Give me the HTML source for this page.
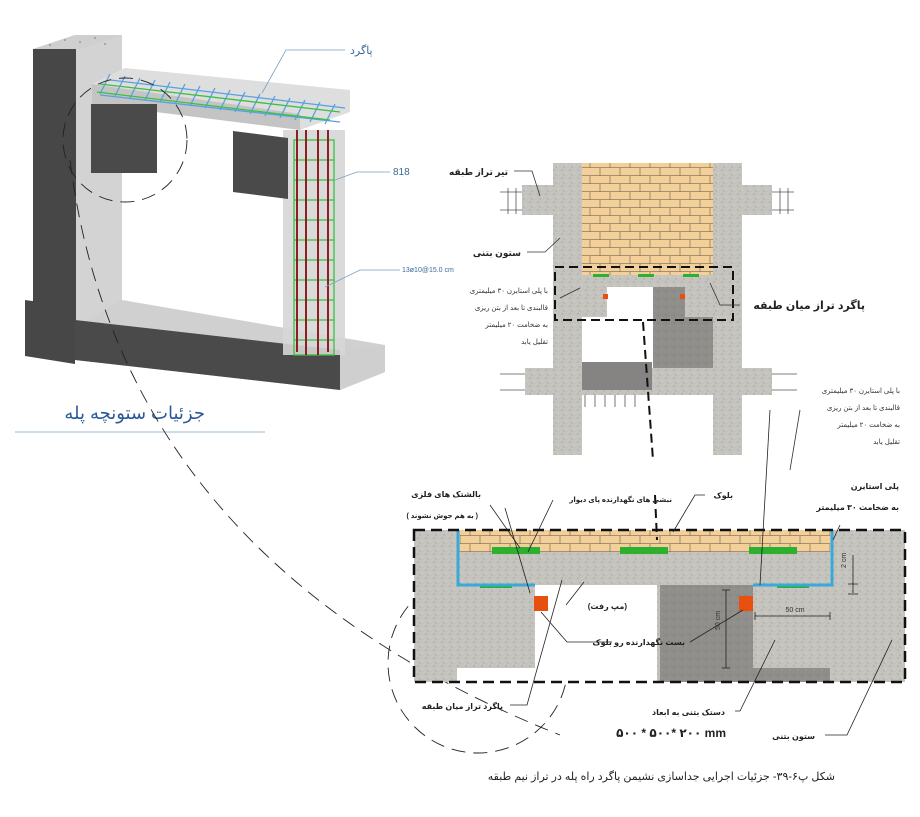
<!DOCTYPE html>
<html><head><meta charset="utf-8"><style>
body{margin:0;background:#fff}
svg{display:block;font-family:"Liberation Sans","DejaVu Sans",sans-serif}
</style></head><body>
<svg width="920" height="817" viewBox="0 0 920 817" xmlns="http://www.w3.org/2000/svg">
<defs>
<pattern id="conc" width="8" height="8" patternUnits="userSpaceOnUse">
<rect width="8" height="8" fill="#c4c3bd"/><circle cx="2" cy="2" r="0.8" fill="#a8a7a0"/><circle cx="6" cy="5" r="0.7" fill="#d8d7d1"/><circle cx="4" cy="7" r="0.6" fill="#9d9c96"/>
</pattern>
<pattern id="dconc" width="8" height="8" patternUnits="userSpaceOnUse">
<rect width="8" height="8" fill="#8f8e8a"/><circle cx="2" cy="3" r="0.8" fill="#7d7c78"/><circle cx="6" cy="6" r="0.7" fill="#a09f9a"/>
</pattern>
<pattern id="brick" width="20" height="16" patternUnits="userSpaceOnUse">
<rect width="20" height="16" fill="#f3d09a"/><path d="M0 7.5H20M0 15.5H20M10 0V8M0 8V16M20 8V16" stroke="#8a7a60" stroke-width="0.8" fill="none"/>
</pattern>
</defs>

<!-- LEFT 3D -->
<polygon points="33,49 75,35 122,35 122,327 75,327 75,49" fill="#d3d3d3"/>
<polygon points="33,49 75,35 122,35 80,49" fill="#cfcfcf"/>
<rect x="33" y="49" width="43" height="276" fill="#474747"/>
<polygon points="75,327 122,300 385,345 385,372 340,390 75,360" fill="#d0d0d0"/>
<polygon points="75,320 340,350 340,390 75,360" fill="#4a4a4a"/>
<polygon points="340,350 385,345 385,372 340,390" fill="#cfcfcf"/>
<polygon points="25,300 75,307 75,364 25,356" fill="#474747"/>
<rect x="283" y="130" width="62" height="225" fill="#d6d6d6" opacity="0.9"/>
<polygon points="92,84 125,68 350,90 350,112 300,130 92,104" fill="#dedede"/>
<polygon points="92,84 300,114 300,130 92,104" fill="#c4c4c4"/>
<rect x="91" y="104" width="66" height="69" fill="#4a4a4a"/>
<polygon points="233,131 288,138 288,199 233,192" fill="#4a4a4a"/>
<g fill="#999"><circle cx="50" cy="45" r="1"/><circle cx="65" cy="40" r="1"/><circle cx="80" cy="42" r="1"/><circle cx="95" cy="38" r="1"/><circle cx="105" cy="44" r="1"/></g>
<g stroke="#5aa0e0" stroke-width="1.3">
<path d="M100 95 L340 122 M110 80 L345 108"/>
<path d="M110 74l-10 20M125 76l-10 20M140 78l-10 20M155 80l-10 20M170 82l-10 20M185 84l-10 20M200 86l-10 20M215 88l-10 20M230 90l-10 20M245 92l-10 20M260 94l-10 20M275 96l-10 20M290 98l-10 20M305 100l-10 20M320 102l-10 20M335 104l-10 20"/>
</g>
<g stroke="#3cc040" stroke-width="1.3" fill="none">
<path d="M97 92 L330 120 M100 84 L340 112"/>
<rect x="294" y="140" width="40" height="215"/>
<path d="M294 160h40M294 180h40M294 200h40M294 220h40M294 240h40M294 260h40M294 280h40M294 300h40M294 320h40M294 340h40"/>
</g>
<g stroke="#8a2020" stroke-width="2"><path d="M297 130V352M306 130V355M318 130V355M328 130V352"/></g>
<g stroke="#7aa0c0" stroke-width="0.8" fill="none">
<path d="M262 93 L286 50 H345"/><path d="M335 180 L357 172 H390"/><path d="M325 287 L360 270 H400"/>
<line x1="15" y1="432" x2="265" y2="432"/>
</g>
<text x="350" y="54" font-size="11" fill="#3a6a9a">پاگرد</text>
<text x="393" y="175" font-size="10" fill="#3a6a9a">818</text>
<text x="402" y="272" font-size="7" fill="#3a6a9a">13ø10@15.0 cm</text>
<text x="205" y="419" font-size="18" fill="#2a5a9a" text-anchor="end">جزئیات ستونچه پله</text>

<g stroke="#222" stroke-width="0.9" fill="none" stroke-dasharray="14,8">
<circle cx="125" cy="140" r="62"/>
<path d="M70 160 Q120 560 560 735"/>
<circle cx="478" cy="663" r="90"/>
</g>

<!-- UPPER RIGHT DRAWING -->
<rect x="522" y="185" width="32" height="30" fill="url(#conc)"/>
<rect x="742" y="185" width="30" height="30" fill="url(#conc)"/>
<g stroke="#555" stroke-width="0.8"><path d="M500 192h22M500 210h22M772 192h22M772 210h22M508 188v26M516 188v26M780 188v26M788 188v26"/></g>
<rect x="582" y="163" width="131" height="112" fill="url(#brick)"/>
<rect x="582" y="275" width="131" height="12" fill="url(#conc)"/>
<rect x="582" y="287" width="25" height="30" fill="url(#conc)"/>
<rect x="653" y="287" width="60" height="83" fill="url(#dconc)"/>
<rect x="685" y="287" width="28" height="30" fill="url(#conc)"/>
<rect x="603" y="294" width="5" height="5" fill="#e85010"/>
<rect x="680" y="294" width="5" height="5" fill="#e85010"/>
<g fill="#2bb030"><rect x="593" y="274" width="16" height="3"/><rect x="638" y="274" width="16" height="3"/><rect x="683" y="274" width="16" height="3"/></g>
<rect x="553" y="163" width="29" height="292" fill="url(#conc)"/>
<rect x="713" y="163" width="29" height="292" fill="url(#conc)"/>
<rect x="525" y="368" width="247" height="27" fill="url(#conc)"/>
<rect x="582" y="362" width="70" height="28" fill="#858482"/>
<g stroke="#555" stroke-width="0.8"><path d="M500 374h25M500 390h25M772 374h25M772 390h25M585 395v12M595 395v12M605 395v12M615 395v12M625 395v12M635 395v12"/></g>
<rect x="555" y="267" width="178" height="53" fill="none" stroke="#111" stroke-width="2" stroke-dasharray="9,5"/>
<path d="M643 322 L653 460" stroke="#111" stroke-width="2" stroke-dasharray="9,5"/>
<g stroke="#333" stroke-width="0.8" fill="none"><path d="M514 171 H532 L540 196"/><path d="M527 252 H545 L560 238"/><path d="M560 298 L580 288"/><path d="M740 305 H720 L710 283"/><path d="M800 410 L790 470"/></g>
<g font-size="9" font-weight="bold" fill="#222" text-anchor="end">
<text x="508" y="175">تیر تراز طبقه</text>
<text x="521" y="256">ستون بتنی</text>
<text x="865" y="309" font-size="11">پاگرد تراز میان طبقه</text>
</g>
<g font-size="7" fill="#333" text-anchor="end">
<text x="548" y="293">با پلی استایرن ۳۰ میلیمتری</text><text x="548" y="310">قالبندی تا بعد از بتن ریزی</text><text x="548" y="327">به ضخامت ۲۰ میلیمتر</text><text x="548" y="344">تقلیل یابد</text>
<text x="900" y="393">با پلی استایرن ۳۰ میلیمتری</text><text x="900" y="410">قالبندی تا بعد از بتن ریزی</text><text x="900" y="427">به ضخامت ۲۰ میلیمتر</text><text x="900" y="444">تقلیل یابد</text>
</g>

<!-- LOWER DETAIL -->
<rect x="414" y="530" width="491" height="152" fill="url(#conc)"/>
<rect x="460" y="530" width="370" height="22" fill="url(#brick)"/>
<rect x="457" y="585" width="200" height="97" fill="#fff"/>
<rect x="457" y="585" width="78" height="83" fill="url(#conc)"/>
<rect x="660" y="585" width="170" height="97" fill="url(#dconc)"/>
<rect x="753" y="585" width="77" height="83" fill="url(#conc)"/>
<g fill="#2bb030"><rect x="492" y="547" width="48" height="7"/><rect x="620" y="547" width="48" height="7"/><rect x="749" y="547" width="48" height="7"/><rect x="480" y="584" width="32" height="4"/><rect x="777" y="584" width="32" height="4"/></g>
<g stroke="#3aa8d8" stroke-width="3" fill="none"><path d="M458 530V585H535"/><path d="M832 530V585H753"/></g>
<rect x="534" y="596" width="14" height="15" fill="#e85010"/>
<rect x="739" y="596" width="14" height="15" fill="#e85010"/>
<rect x="414" y="530" width="491" height="152" fill="none" stroke="#111" stroke-width="2.5" stroke-dasharray="11,6"/>
<g stroke="#222" stroke-width="0.8" fill="none">
<path d="M726 590V668M722 590h8M722 668h8"/><path d="M755 616H830M755 612v8M830 612v8"/>
<path d="M853 555v38M848 584h10M848 594h10"/>
<path d="M490 505 L520 548"/><path d="M553 500 L528 552"/><path d="M705 495 H695 L673 532"/><path d="M840 525 L833 540"/>
<path d="M505 508 L530 593"/><path d="M584 582 L566 605"/><path d="M612 642 H567 L541 612"/><path d="M690 642 L743 610"/>
<path d="M510 705 H527 L562 580"/><path d="M735 711 H740 L775 640"/><path d="M825 735 H847 L892 640"/><path d="M770 410 L760 585"/>
</g>
<path d="M655 495 L657 540" stroke="#111" stroke-width="2" stroke-dasharray="9,5"/>
<g font-size="8" font-weight="bold" fill="#222" text-anchor="end">
<text x="481" y="497">بالشتک های فلزی</text>
<text x="478" y="518" font-size="7">( به هم جوش نشوند )</text>
<text x="672" y="502" font-size="7">نبشی های نگهدارنده پای دیوار</text>
<text x="733" y="498">بلوک</text>
<text x="899" y="489">پلی استایرن</text>
<text x="899" y="510">به ضخامت ۳۰ میلیمتر</text>
<text x="627" y="609">(مپ رفت)</text>
<text x="685" y="645">بست نگهدارنده رو بلوک</text>
<text x="503" y="709">پاگرد تراز میان طبقه</text>
<text x="725" y="715">دستک بتنی به ابعاد</text>
<text x="815" y="739">ستون بتنی</text>
</g>
<text x="726" y="737" font-size="12" font-weight="bold" fill="#222" text-anchor="end">۵۰۰ * ۵۰۰* ۲۰۰ mm</text>
<text x="795" y="612" font-size="7" fill="#333" text-anchor="middle">50 cm</text>
<text x="720" y="630" font-size="7" fill="#333" transform="rotate(-90 720 630)">50 cm</text>
<text x="846" y="568" font-size="7" fill="#333" transform="rotate(-90 846 568)">2 cm</text>
<text x="835" y="780" font-size="11" fill="#222" text-anchor="end">شکل پ۶-۳۹- جزئیات اجرایی جداسازی نشیمن پاگرد راه پله در تراز نیم طبقه</text>
</svg>
</body></html>
